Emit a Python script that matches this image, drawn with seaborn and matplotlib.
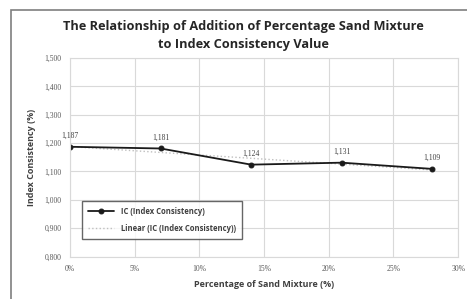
import numpy as np
import pandas as pd
import matplotlib.pyplot as plt
import matplotlib.ticker as mticker
from matplotlib.patches import Rectangle
import seaborn as sns

# values
sand_pct = [0, 7, 14, 21, 28]
ic_values = [1.187, 1.181, 1.124, 1.131, 1.109]
y_ticks = [0.8, 0.9, 1.0, 1.1, 1.2, 1.3, 1.4, 1.5]
x_ticks = [0, 5, 10, 15, 20, 25, 30]

df = pd.DataFrame({"sand": sand_pct, "ic": ic_values})

sns.set_theme(style="white")
plt.rcParams['font.family'] = ['Open Sans', 'DejaVu Sans']

fig = plt.figure(figsize=(4.67, 2.99), dpi=100)
ax = fig.add_axes([0.150, 0.142, 0.831, 0.664])

# outer chart frame (runs off the right and bottom edges like the screenshot)
fig.patches.append(Rectangle((11 / 467, -10 / 299), 470 / 467, 299 / 299,
                             transform=fig.transFigure, fill=False,
                             edgecolor="#7f7f7f", linewidth=1.2))

sns.regplot(data=df, x="sand", y="ic", ax=ax, scatter=False, ci=None,
            truncate=True, line_kws=dict(color="#bfbfbf", linestyle=":", linewidth=1.0),
            label="Linear (IC (Index Consistency))")
sns.lineplot(data=df, x="sand", y="ic", ax=ax, color="#1a1a1a", linewidth=1.3,
             marker="o", markersize=3.5, markeredgecolor="#1a1a1a",
             label="IC (Index Consistency)")

for x, y in zip(sand_pct, ic_values):
    ax.annotate(f"{y:.3f}".replace(".", ","), (x, y), xytext=(0, 5),
                textcoords="offset points", ha="center", va="bottom",
                fontsize=5.5, color="#404040", family="Liberation Serif")

ax.set_xlim(0, 30)
ax.set_ylim(0.8, 1.5)
ax.set_xticks(x_ticks)
ax.set_yticks(y_ticks)
ax.xaxis.set_major_formatter(mticker.FuncFormatter(lambda v, p: f"{v:.0f}%"))
ax.yaxis.set_major_formatter(mticker.FuncFormatter(lambda v, p: f"{v:.3f}".replace(".", ",")))
ax.tick_params(labelsize=5.5, colors="#595959", length=0, pad=6)
for lab in ax.get_xticklabels() + ax.get_yticklabels():
    lab.set_family("Liberation Serif")
ax.grid(True, color="#d9d9d9", linewidth=0.8)
for s in ax.spines.values():
    s.set_color("#d9d9d9")
    s.set_linewidth(0.8)

ax.set_xlabel("Percentage of Sand Mixture (%)", fontsize=6.5, fontweight="bold", color="#404040", labelpad=5)
ax.set_ylabel("Index Consistency (%)", fontsize=6.5, fontweight="bold", color="#404040", labelpad=6)

fig.text(0.522, 0.91, "The Relationship of Addition of Percentage Sand Mixture",
         ha="center", va="center", fontsize=9.2, fontweight="bold", color="#262626")
fig.text(0.522, 0.85, "to Index Consistency Value",
         ha="center", va="center", fontsize=9.2, fontweight="bold", color="#262626")

handles, labels = ax.get_legend_handles_labels()
order = [labels.index("IC (Index Consistency)"), labels.index("Linear (IC (Index Consistency))")]
leg = ax.legend([handles[i] for i in order], [labels[i] for i in order],
                loc="lower left", bbox_to_anchor=(0.02, 0.07), fontsize=5.5,
                frameon=True, fancybox=False, edgecolor="#404040",
                handlelength=3.5, borderpad=0.8, labelspacing=1.0)
leg.get_frame().set_linewidth(1.0)
for t in leg.get_texts():
    t.set_fontweight("bold")
    t.set_color("#404040")

fig.savefig("out.png", dpi=100)
